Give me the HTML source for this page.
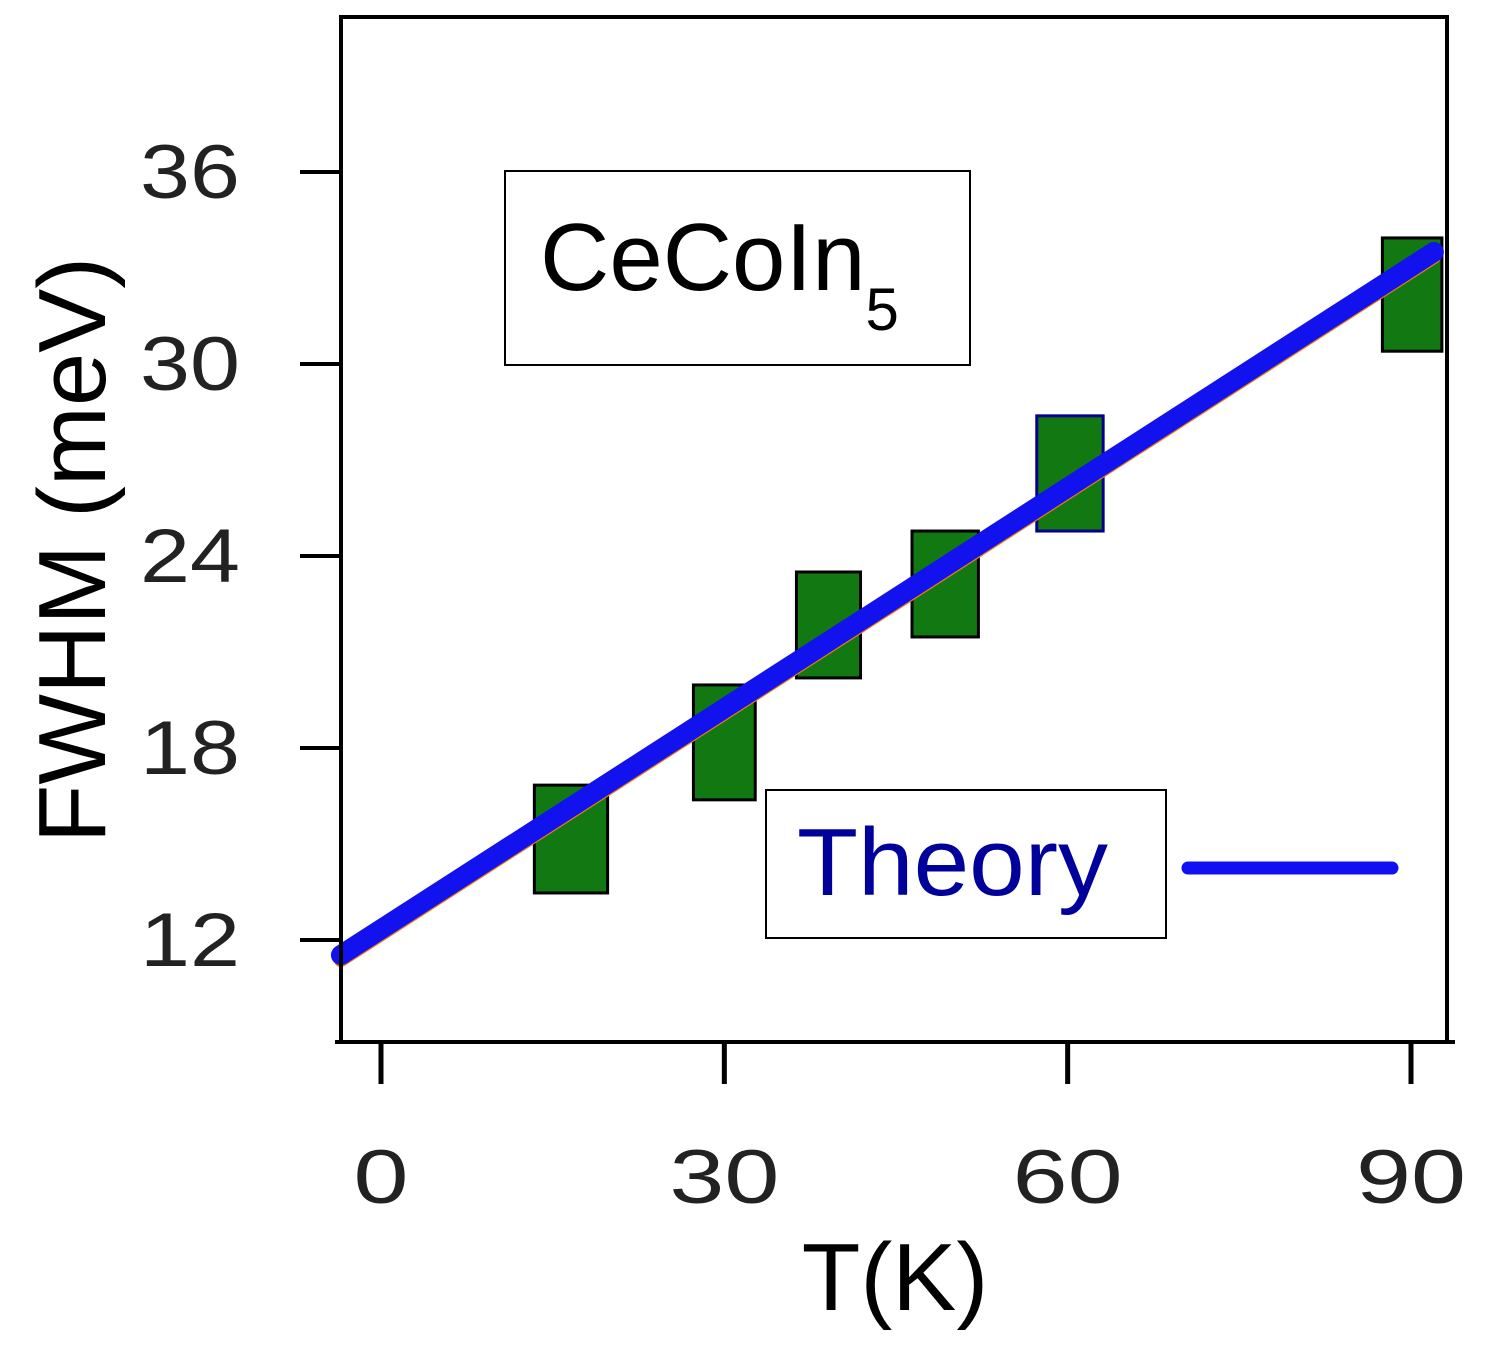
<!DOCTYPE html>
<html><head><meta charset="utf-8"><style>
body{margin:0;background:#fff}
svg text{font-family:"Liberation Sans",sans-serif}
</style></head><body>
<svg id="chart" width="1497" height="1343" viewBox="0 0 1497 1343">
<g id="marks"></g>
<g id="axes"></g>
<rect x="505" y="171" width="465" height="194" fill="#fff" stroke="#000" stroke-width="2"/>
<text x="540" y="290" font-size="96" fill="#000">CeCoIn<tspan font-size="60" dy="40">5</tspan></text>
<rect x="766" y="790" width="400" height="148" fill="#fff" stroke="#000" stroke-width="2"/>
<text x="797" y="895" font-size="96" fill="#00009a" textLength="311" lengthAdjust="spacingAndGlyphs">Theory</text>
<line x1="1188" y1="868" x2="1392" y2="868" stroke="#1010f0" stroke-width="13" stroke-linecap="round"/>
<text x="895" y="1310" font-size="96" text-anchor="middle" fill="#000">T(K)</text>
<text transform="translate(105,550) rotate(-90)" font-size="96" text-anchor="middle" fill="#000">FWHM (meV)</text>
</svg>
<script>
const temps=[16.6,30,39.1,49.3,60.2,90.1];
const fwhmLow=[13.47,16.38,20.19,21.47,24.78,30.4];
const fwhmHigh=[16.84,19.97,23.5,24.78,28.38,33.94];
const tempErr=[3.2,2.7,2.8,2.9,2.9,2.6];
const borderColors=["#000","#000","#000","#000","#00008b","#000"];
const theoryT=[-3.5,92];
const theoryY=[11.53,33.5];
const xTicks=[0,30,60,90];
const yTicks=[12,18,24,30,36];
const NS="http://www.w3.org/2000/svg";
const xs=t=>381+t*(1411-381)/90;
const ys=v=>940-(v-12)*32;
const marks=document.getElementById('marks'),axes=document.getElementById('axes');
function mk(p,tag,a){const e=document.createElementNS(NS,tag);for(const k in a)e.setAttribute(k,a[k]);p.appendChild(e);return e;}
temps.forEach((t,i)=>{
 const r=mk(marks,'rect',{x:xs(t-tempErr[i]),y:ys(fwhmHigh[i]),width:xs(t+tempErr[i])-xs(t-tempErr[i]),height:ys(fwhmLow[i])-ys(fwhmHigh[i]),fill:'#127812',stroke:borderColors[i],'stroke-width':3});
 
 
});
const o=mk(marks,'line',{x1:xs(theoryT[0]),y1:ys(theoryY[0])+5,x2:xs(theoryT[1]),y2:ys(theoryY[1])+5,stroke:'#f07a10','stroke-width':14,'stroke-linecap':'round'});


const l=mk(marks,'line',{x1:xs(theoryT[0]),y1:ys(theoryY[0]),x2:xs(theoryT[1]),y2:ys(theoryY[1]),stroke:'#1212ee','stroke-width':20,'stroke-linecap':'round'});


const fr=mk(axes,'path',{d:'M341,1042 L341,17 L1447,17 L1447,1042',fill:'none',stroke:'#000','stroke-width':4});


const xa=mk(axes,'line',{x1:335,y1:1042,x2:1455,y2:1042,stroke:'#000','stroke-width':4});


xTicks.forEach(t=>{
 const k=mk(axes,'line',{x1:xs(t),y1:1042,x2:xs(t),y2:1084,stroke:'#000','stroke-width':5});
 
 
 const s=String(t);
 const tx=mk(axes,'text',{x:xs(t),y:1203,'font-size':76,'text-anchor':'middle',fill:'#222',textLength:s.length*55,lengthAdjust:'spacingAndGlyphs'});
 tx.textContent=s;
 
 
});
yTicks.forEach(v=>{
 const k=mk(axes,'line',{x1:300,y1:ys(v),x2:341,y2:ys(v),stroke:'#000','stroke-width':4});
 
 
 const tx=mk(axes,'text',{x:240,y:ys(v)+26,'font-size':76,'text-anchor':'end',fill:'#222',textLength:100,lengthAdjust:'spacingAndGlyphs'});
 tx.textContent=v;
 
 
});
</script>
</body></html>
